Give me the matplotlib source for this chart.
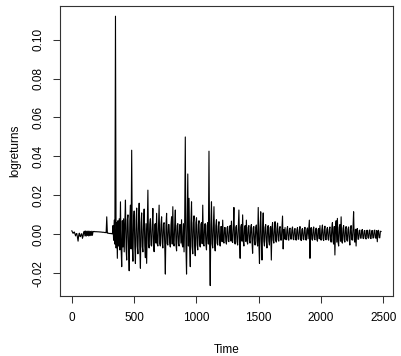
import numpy as np
import matplotlib
matplotlib.use("Agg")
import matplotlib.pyplot as plt

rows = [
    [0.0018, 0.0012, 0.0005, 0.0010, 0.0012, 0.0002, -0.0008, 0.0003, 0.0004, -0.0015, -0.0035, -0.0005, 0.0006, -0.0010, -0.0012, 0.0002, 0.0003, -0.0020, -0.0010, 0.0010],
    [0.0016, -0.0008, 0.0017, -0.0009, 0.0016, -0.0006, 0.0017, -0.0008, 0.0016, -0.0007, 0.0015, -0.0006, 0.0016, -0.0005, 0.0015, 0.0014, 0.0015, 0.0013, 0.0014, 0.0013],
    [0.0014, 0.0013, 0.0013, 0.0013, 0.0012, 0.0013, 0.0012, 0.0011, 0.0012, 0.0011, 0.0010, 0.0011, 0.0010, 0.0009, 0.0010, 0.0008, 0.0090, 0.0006, 0.0007, 0.0005],
    [0.0005, 0.0004, 0.0005, 0.0003, 0.0004, 0.0002, 0.0045, -0.0030, 0.0073, -0.0050, 0.1120, -0.0070, 0.0060, -0.0123, 0.0070, -0.0060, 0.0080, -0.0080, 0.0167, -0.0070],
    [-0.0166, 0.0070, -0.0065, 0.0080, -0.0090, 0.0060, 0.0176, -0.0070, -0.0132, 0.0075, 0.0100, -0.0068, -0.0187, 0.0070, 0.0150, -0.0075, 0.0432, -0.0065, -0.0138, 0.0072],
    [0.0120, -0.0065, -0.0150, 0.0070, 0.0135, -0.0060, -0.0100, 0.0065, 0.0160, -0.0068, -0.0174, 0.0060, 0.0110, -0.0062, -0.0090, 0.0058, 0.0130, -0.0060, -0.0120, 0.0055],
    [-0.0149, 0.0055, 0.0227, -0.0050, -0.0070, 0.0050, 0.0080, -0.0055, -0.0060, 0.0048, 0.0133, -0.0052, -0.0089, 0.0050, 0.0055, -0.0045, 0.0108, -0.0050, -0.0060, 0.0045],
    [0.0150, -0.0048, -0.0060, 0.0050, 0.0090, -0.0045, -0.0070, 0.0052, 0.0060, -0.0050, -0.0204, 0.0045, 0.0108, -0.0048, -0.0055, 0.0050, 0.0050, -0.0045, -0.0065, 0.0048],
    [0.0090, -0.0050, 0.0142, -0.0045, -0.0060, 0.0048, 0.0125, -0.0050, -0.0085, 0.0045, 0.0055, -0.0048, -0.0060, 0.0050, 0.0050, -0.0045, 0.0075, -0.0052, -0.0065, 0.0055],
    [-0.0090, 0.0060, 0.0500, -0.0060, -0.0204, 0.0065, 0.0310, -0.0060, 0.0185, -0.0065, -0.0166, 0.0060, 0.0167, -0.0062, -0.0100, 0.0060, 0.0095, -0.0058, -0.0110, 0.0060],
    [0.0085, -0.0055, -0.0080, 0.0050, 0.0070, -0.0050, -0.0065, 0.0052, 0.0060, -0.0048, 0.0150, -0.0050, -0.0060, 0.0048, 0.0055, -0.0050, -0.0080, 0.0045, 0.0060, -0.0050],
    [0.0427, -0.0050, -0.0263, 0.0050, 0.0167, -0.0048, -0.0070, 0.0045, 0.0142, -0.0050, -0.0085, 0.0045, 0.0075, -0.0045, -0.0055, 0.0042, 0.0065, -0.0040, -0.0060, 0.0040],
    [0.0040, -0.0038, 0.0073, -0.0035, -0.0045, 0.0035, 0.0035, -0.0036, -0.0050, 0.0034, 0.0040, -0.0035, -0.0038, 0.0036, 0.0045, -0.0034, 0.0068, -0.0036, -0.0042, 0.0035],
    [0.0138, -0.0036, -0.0050, 0.0035, 0.0045, -0.0038, -0.0055, 0.0036, 0.0125, -0.0035, -0.0123, 0.0036, 0.0050, -0.0035, 0.0100, -0.0036, -0.0060, 0.0034, 0.0045, -0.0036],
    [0.0073, -0.0035, -0.0050, 0.0036, 0.0045, -0.0034, -0.0045, 0.0035, 0.0050, -0.0036, -0.0097, 0.0034, 0.0040, -0.0035, -0.0055, 0.0036, 0.0048, -0.0034, -0.0060, 0.0138],
    [-0.0040, -0.0149, 0.0035, 0.0116, -0.0036, -0.0132, 0.0034, 0.0110, -0.0035, -0.0060, 0.0036, 0.0050, -0.0034, -0.0070, 0.0035, 0.0045, -0.0036, -0.0055, 0.0034, 0.0040],
    [-0.0132, 0.0030, 0.0060, -0.0030, -0.0045, 0.0028, 0.0065, -0.0030, -0.0040, 0.0029, 0.0058, -0.0028, -0.0035, 0.0030, 0.0040, -0.0029, -0.0030, 0.0028, 0.0094, -0.0075],
    [0.0025, -0.0024, 0.0035, -0.0025, -0.0028, 0.0024, 0.0040, -0.0025, -0.0030, 0.0024, 0.0032, -0.0023, -0.0025, 0.0025, 0.0038, -0.0024, -0.0028, 0.0023, 0.0030, -0.0025],
    [-0.0030, 0.0024, 0.0035, -0.0025, -0.0025, 0.0024, 0.0040, -0.0023, -0.0032, 0.0025, 0.0030, -0.0024, -0.0028, 0.0023, 0.0036, -0.0025, -0.0030, 0.0024, 0.0033, -0.0023],
    [0.0025, 0.0073, -0.0123, 0.0025, 0.0035, -0.0024, -0.0030, 0.0025, 0.0038, -0.0023, -0.0028, 0.0024, 0.0032, -0.0025, -0.0035, 0.0024, 0.0030, -0.0023, 0.0045, -0.0025],
    [-0.0030, 0.0025, 0.0048, -0.0024, -0.0032, 0.0025, 0.0042, -0.0026, -0.0028, 0.0025, 0.0035, -0.0024, -0.0030, 0.0026, 0.0038, -0.0025, -0.0040, 0.0030, 0.0060, -0.0035],
    [-0.0050, 0.0040, -0.0106, 0.0035, 0.0070, -0.0040, 0.0082, -0.0038, -0.0060, 0.0036, 0.0050, -0.0035, 0.0090, -0.0036, -0.0045, 0.0030, 0.0045, -0.0030, -0.0040, 0.0028],
    [0.0040, -0.0028, -0.0035, 0.0027, 0.0038, -0.0028, -0.0055, 0.0027, 0.0045, -0.0026, -0.0030, 0.0028, 0.0116, -0.0027, -0.0040, 0.0026, -0.0060, 0.0025, 0.0030, -0.0025],
    [-0.0025, 0.0020, 0.0022, -0.0019, -0.0020, 0.0019, 0.0025, -0.0020, -0.0022, 0.0018, 0.0020, -0.0019, -0.0024, 0.0020, 0.0021, -0.0018, -0.0020, 0.0019, 0.0023, -0.0020],
    [-0.0022, 0.0018, 0.0020, -0.0019, -0.0018, 0.0020, 0.0022, -0.0018, -0.0020, 0.0019, -0.0038, 0.0018, 0.0021, -0.0017, -0.0018, 0.0016, 0.0015],
]
logreturns = [v for r in rows for v in r]
time = 1 + 5 * np.arange(len(logreturns))

xticks = [0, 500, 1000, 1500, 2000, 2500]
yticks = [-0.02, 0.00, 0.02, 0.04, 0.06, 0.08, 0.10]
ytick_labels = ["-0.02", "0.00", "0.02", "0.04", "0.06", "0.08", "0.10"]

plt.rcParams['font.family'] = ['Liberation Sans', 'DejaVu Sans']

fig = plt.figure(figsize=(4.01, 3.56), dpi=100)
ax = fig.add_axes([59.5 / 401, 1 - 295.7 / 356, (393 - 59.5) / 401, (295.7 - 5.5) / 356])
ax.plot(time, logreturns, color='black', lw=0.8)

ax.set_xlim(-98, 2577)
ax.set_ylim(-0.0315, 0.1175)
ax.set_xticks(xticks)
ax.set_xticklabels([str(x) for x in xticks])
ax.set_yticks(yticks)
ax.set_yticklabels(ytick_labels, rotation=90, va='center')
ax.tick_params(axis='both', direction='out', length=5, width=0.75, labelsize=8.5, pad=6, color='#333333')
ax.tick_params(axis='x', pad=7)
for s in ax.spines.values():
    s.set_linewidth(0.8)
    s.set_color('#333333')

ax.set_xlabel("Time", fontsize=8.5, labelpad=14)
ax.set_ylabel("logreturns", fontsize=8.5, labelpad=8)

fig.savefig("out.png", dpi=100)
